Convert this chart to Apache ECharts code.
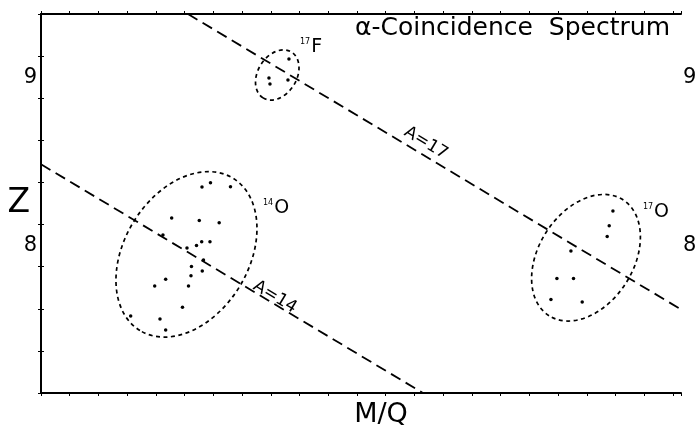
<!DOCTYPE html>
<html>
<head>
<meta charset="utf-8">
<script src="https://cdn.jsdelivr.net/npm/echarts@6/dist/echarts.min.js"></script>
<style>
  html, body { margin: 0; padding: 0; background: #fff; }
  #main { width: 696px; height: 426px; }
</style>
</head>
<body>
<div id="main"></div>
<script>
// axes: M/Q (arbitrary units, one tick per unit), Z
var zTicks = [7.125, 7.375, 7.625, 7.875, 8.125, 8.375, 8.625, 8.875, 9.125, 9.375];
var zLabels = [8, 9];

// mass lines A = const
var lineA17 = [[5.117, 9.375], [22.28, 7.621]];
var lineA14 = [[0, 8.483], [13.296, 7.125]];
var lineNames = ['A=17', 'A=14'];
var lineLabelPos = [[13.401, 8.609], [8.145, 7.695]];

// events (M/Q, Z)
var events17F = [[8.632, 9.108], [7.936, 8.995], [7.971, 8.959], [8.597, 8.983]];
var events14O = [
  [5.604, 8.348], [5.900, 8.373], [6.596, 8.350], [4.549, 8.164], [5.510, 8.149],
  [6.203, 8.136], [5.594, 8.023], [5.882, 8.023], [5.413, 8.001], [4.246, 8.063],
  [5.082, 7.986], [5.656, 7.915], [5.238, 7.876], [5.614, 7.849], [5.221, 7.821],
  [4.340, 7.800], [3.958, 7.760], [5.134, 7.760], [4.925, 7.634], [3.122, 7.582],
  [4.142, 7.564], [4.340, 7.499]
];
var events17O = [
  [19.910, 8.205], [19.781, 8.118], [19.711, 8.054], [18.448, 7.968],
  [17.960, 7.805], [18.538, 7.805], [17.752, 7.680], [18.841, 7.665]
];

// gates: centre, end of long axis, short/long ratio
var gateCenters = [[8.225, 9.013], [5.064, 7.948], [18.973, 7.928]];
var gateTips = [[8.719, 9.149], [6.683, 8.400], [20.261, 8.272]];
var gateRatios = [0.72, 0.696, 0.688];

// isotope labels
var isoMass = ['17', '14', '17'];
var isoSymbol = ['F', 'O', 'O'];
var isoPos = [[9.015, 9.176], [7.727, 8.223], [20.954, 8.197]];

var font = 'DejaVu Sans';

var gateData = [];
for (var i = 0; i < gateCenters.length; i++) {
  gateData.push([gateCenters[i][0], gateCenters[i][1], gateTips[i][0], gateTips[i][1], gateRatios[i]]);
}

var lineLabelData = [];
for (var i = 0; i < lineNames.length; i++) {
  lineLabelData.push({ value: lineLabelPos[i], name: lineNames[i] });
}

var isoData = [];
for (var i = 0; i < isoMass.length; i++) {
  isoData.push({ value: isoPos[i], name: '{m|' + isoMass[i] + '}{s|' + isoSymbol[i] + '}' });
}

function makeX(pos, name) {
  return {
    type: 'value', position: pos, min: 0, max: 22.28, interval: 1,
    name: name, nameLocation: 'middle', nameGap: 8, nameMoveOverlap: false,
    nameTextStyle: { fontFamily: font, fontSize: 27, color: '#000', verticalAlign: 'top', padding: [0, 0, 0, 40] },
    axisLine: { show: true, lineStyle: { color: '#000', width: 2 } },
    axisTick: { show: true, length: 3, lineStyle: { color: '#000', width: 1 } },
    axisLabel: { show: false },
    splitLine: { show: false }
  };
}

function makeY(pos, name) {
  return {
    type: 'value', position: pos, min: 7.125, max: 9.375,
    name: name, nameLocation: 'middle', nameRotate: 0, nameGap: 11, nameMoveOverlap: false,
    nameTextStyle: { fontFamily: font, fontSize: 33, color: '#000', align: 'right', padding: [0, 0, 26, 0] },
    axisLine: { show: true, lineStyle: { color: '#000', width: 2 } },
    axisTick: { show: true, length: 3, customValues: zTicks, lineStyle: { color: '#000', width: 1 } },
    axisLabel: { show: true, customValues: zLabels, fontFamily: font, fontSize: 21, color: '#000', margin: pos == 'left' ? 4 : 2 },
    splitLine: { show: false }
  };
}

var myChart = echarts.init(document.getElementById('main'));

var option = {
  backgroundColor: '#fff',
  animation: false,
  title: {
    text: 'α-Coincidence  Spectrum',
    right: 26, top: 16, padding: 0,
    textStyle: { fontFamily: font, fontSize: 25, fontWeight: 'normal', color: '#000' }
  },
  grid: { left: 41, right: 15, top: 14, bottom: 33, containLabel: false, outerBoundsMode: 'none' },
  xAxis: [makeX('bottom', 'M/Q'), makeX('top', '')],
  yAxis: [makeY('left', 'Z'), makeY('right', '')],
  series: [
    {
      type: 'line', data: lineA17, showSymbol: false, silent: true,
      lineStyle: { color: '#000', width: 1.8, type: [11, 6] }
    },
    {
      type: 'line', data: lineA14, showSymbol: false, silent: true,
      lineStyle: { color: '#000', width: 1.8, type: [11, 6] }
    },
    {
      type: 'custom', data: gateData, clip: false,
      encode: { x: [0, 2], y: [1, 3] },
      renderItem: function (params, api) {
        var c = api.coord([api.value(0), api.value(1)]);
        var t = api.coord([api.value(2), api.value(3)]);
        var dx = t[0] - c[0], dy = t[1] - c[1];
        var a = Math.sqrt(dx * dx + dy * dy);
        return {
          type: 'ellipse',
          x: c[0], y: c[1],
          rotation: -Math.atan2(dy, dx),
          shape: { cx: 0, cy: 0, rx: a, ry: a * api.value(4) },
          style: { fill: 'none', stroke: '#000', lineWidth: 1.7, lineDash: [4, 3.5] }
        };
      }
    },
    {
      type: 'scatter', data: events17F.concat(events14O, events17O),
      symbol: 'circle', symbolSize: 3.5,
      itemStyle: { color: '#000', opacity: 1 }
    },
    {
      type: 'scatter', data: lineLabelData, symbolSize: 0, silent: true,
      itemStyle: { color: '#000', opacity: 1 },
      label: {
        show: true, position: 'inside', rotate: -31,
        formatter: '{b}', fontFamily: font, fontSize: 17, color: '#000',
        textBorderWidth: 0
      }
    },
    {
      type: 'scatter', data: isoData, symbolSize: 0, silent: true,
      itemStyle: { color: '#000', opacity: 1 },
      label: {
        show: true, position: 'right', distance: 0,
        formatter: '{b}', textBorderWidth: 0,
        rich: {
          m: { fontFamily: font, fontSize: 8, color: '#000', verticalAlign: 'top', padding: [0, 1, 8, 0] },
          s: { fontFamily: font, fontSize: 19, color: '#000' }
        }
      }
    }
  ]
};

myChart.setOption(option);
</script>
</body>
</html>
